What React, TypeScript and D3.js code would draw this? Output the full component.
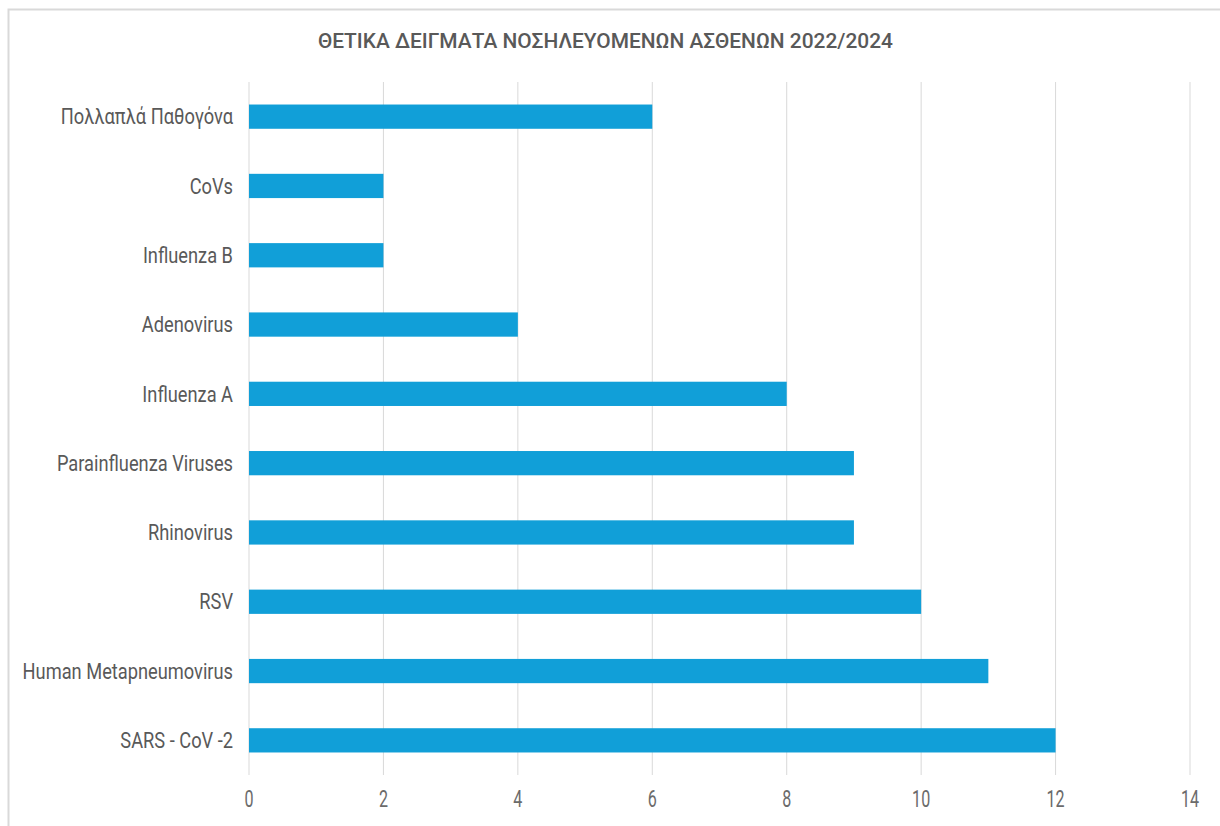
import React from "react";
import * as d3 from "d3";

const categories = [
  "Πολλαπλά Παθογόνα",
  "CoVs",
  "Influenza B",
  "Adenovirus",
  "Influenza A",
  "Parainfluenza Viruses",
  "Rhinovirus",
  "RSV",
  "Human Metapneumovirus",
  "SARS - CoV -2",
];
const values = [6, 2, 2, 4, 8, 9, 9, 10, 11, 12];
const xTicks = [0, 2, 4, 6, 8, 10, 12, 14];
const title = "ΘΕΤΙΚΑ ΔΕΙΓΜΑΤΑ ΝΟΣΗΛΕΥΟΜΕΝΩΝ ΑΣΘΕΝΩΝ 2022/2024";

const W = 1220;
const H = 826;
const FONT = "Roboto, 'Liberation Sans', sans-serif";

export default function App() {
  const x = d3.scaleLinear().domain([0, 14]).range([249, 1190]);
  const y = d3
    .scaleBand<string>()
    .domain(categories)
    .range([82, 775])
    .paddingInner(0.65)
    .paddingOuter(0.325);

  return (
    <svg
      width={W}
      height={H}
      style={{ position: "absolute", left: 0, top: 0, background: "#fff" }}
    >
      <rect x={0} y={0} width={W} height={H} fill="#fff" />
      <rect
        x={8.5}
        y={9.5}
        width={1240}
        height={840}
        fill="none"
        stroke="#d9d9d9"
        strokeWidth={2}
      />
      <text
        x={318}
        y={48}
        textLength={575}
        lengthAdjust="spacingAndGlyphs"
        fontFamily={FONT}
        fontSize={21}
        fontWeight={500}
        fill="#595959"
      >
        {title}
      </text>
      {xTicks.map((t) => (
        <g key={t}>
          <line
            x1={x(t)}
            x2={x(t)}
            y1={82}
            y2={775}
            stroke="#d9d9d9"
            strokeWidth={1}
          />
          <text
            transform={`translate(${x(t)},807) scale(0.7,1)`}
            textAnchor="middle"
            fontFamily={FONT}
            fontSize={23}
            fill="#6b6b6b"
          >
            {t}
          </text>
        </g>
      ))}
      {categories.map((c, i) => (
        <g key={c}>
          <rect
            x={x(0)}
            y={y(c)!}
            width={x(values[i]) - x(0)}
            height={y.bandwidth()}
            fill="#119fd8"
          />
          <text
            transform={`translate(233,${y(c)! + y.bandwidth() / 2}) scale(0.83,1)`}
            dy="0.35em"
            textAnchor="end"
            fontFamily={FONT}
            fontSize={22}
            fill="#595959"
          >
            {c}
          </text>
        </g>
      ))}
    </svg>
  );
}
